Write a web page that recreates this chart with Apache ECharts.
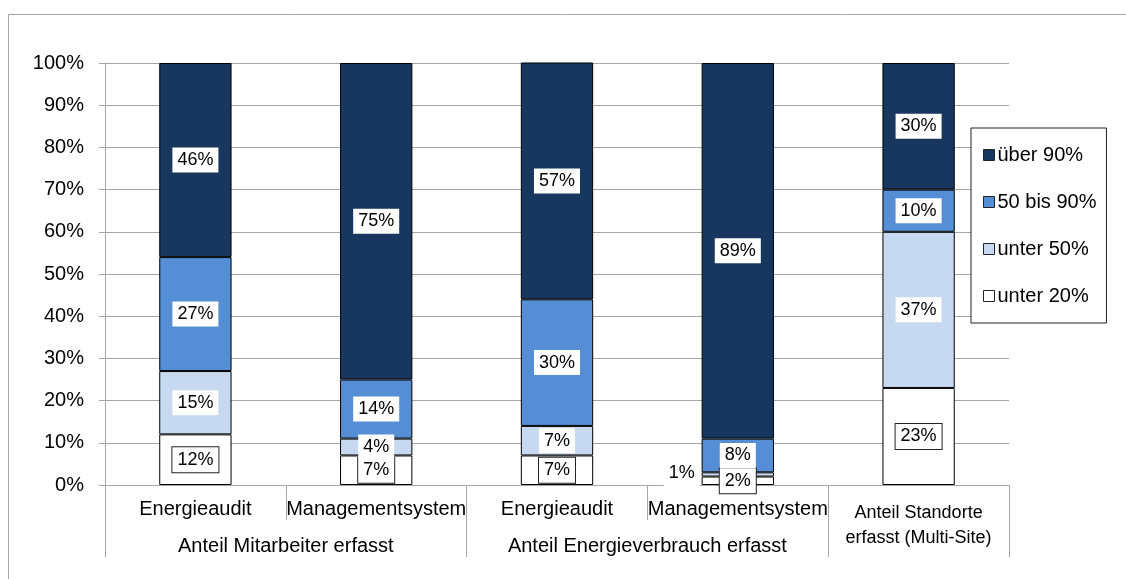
<!DOCTYPE html>
<html>
<head>
<meta charset="utf-8">
<script src="https://cdn.jsdelivr.net/npm/echarts@6/dist/echarts.min.js"></script>
<style>
  html, body { margin: 0; padding: 0; background: #fff; }
  #chart { width: 1126px; height: 579px; }
</style>
</head>
<body>
<div id="chart"></div>
<script>
// Categories (first axis row) and their groups (second axis row)
const categories = ['Energieaudit', 'Managementsystem', 'Energieaudit', 'Managementsystem', 'Anteil Standorte\nerfasst (Multi-Site)'];
const groupLabels = ['Anteil Mitarbeiter erfasst', 'Anteil Energieverbrauch erfasst'];
const groupCenters = [1, 3];        // position on the 0..5 category scale
const groupBoundaries = [0, 2, 4, 5];
const yTicks = [0, 10, 20, 30, 40, 50, 60, 70, 80, 90, 100];

// Shares per coverage class (percent)
const unter20 = [12, 7, 7, 2, 23];
const unter50 = [15, 4, 7, 1, 37];
const bis90   = [27, 14, 30, 8, 10];
const ueber90 = [46, 75, 57, 89, 30];

const seriesNames = ['unter 20%', 'unter 50%', '50 bis 90%', 'über 90%'];
const seriesColors = ['#ffffff', '#c6d9f1', '#558ed5', '#17375e'];
const seriesData = [unter20, unter50, bis90, ueber90];

const font = 'Liberation Sans, Arial, sans-serif';

const baseLabel = {
  show: true,
  position: 'inside',
  formatter: p => p.value + '%',
  fontFamily: font,
  fontSize: 18,
  color: '#000',
  backgroundColor: '#fff',
  borderWidth: 0,
  padding: [4, 5, 3, 5]
};

const series = seriesData.map((vals, si) => ({
  name: seriesNames[si],
  type: 'bar',
  stack: 'total',
  barWidth: '40%',
  data: vals.map((v, ci) => {
    const item = { value: v };
    // small slice in the fourth column: label set beside the bar
    if (si === 1 && ci === 3) {
      item.label = { offset: [-56, -1] };
    }
    return item;
  }),
  itemStyle: { color: seriesColors[si], borderColor: '#000', borderWidth: 1 },
  label: si === 0
    ? Object.assign({}, baseLabel, { borderColor: '#222', borderWidth: 1 })
    : baseLabel,
  emphasis: { disabled: true }
}));

const chart = echarts.init(document.getElementById('chart'), null, { renderer: 'canvas' });
chart.setOption({
  animation: false,
  backgroundColor: '#fff',
  graphic: [{
    type: 'rect',
    shape: { x: 8.5, y: 14.5, width: 1300, height: 800 },
    style: { fill: 'none', stroke: '#a6a6a6', lineWidth: 1 },
    silent: true
  }],
  grid: { left: 105, right: 117, top: 63, bottom: 94 },
  legend: {
    orient: 'vertical',
    left: 971,
    top: 128,
    data: ['über 90%', '50 bis 90%', 'unter 50%', 'unter 20%'],
    icon: 'rect',
    itemWidth: 11,
    itemHeight: 11,
    itemGap: 27,
    itemStyle: { borderColor: '#222', borderWidth: 1 },
    textStyle: { fontFamily: font, fontSize: 20, color: '#000', padding: [0, 0, 0, -2] },
    padding: [17, 10, 17, 12],
    borderColor: '#222',
    borderWidth: 1,
    backgroundColor: '#fff'
  },
  xAxis: [{
    type: 'category',
    data: categories,
    axisLine: { lineStyle: { color: '#a6a6a6' } },
    axisTick: { show: true, interval: 0, length: 35, lineStyle: { color: '#a6a6a6' } },
    axisLabel: {
      interval: 0,
      margin: 14,
      fontFamily: font,
      fontSize: 20,
      color: '#000',
      formatter: (v, i) => {
        if (i !== 4) return v;
        const lines = v.split('\n');
        return '{ms1|' + lines[0] + '}\n{ms2|' + lines[1] + '}';
      },
      rich: {
        ms1: { fontFamily: font, fontSize: 18, lineHeight: 28, color: '#000' },
        ms2: { fontFamily: font, fontSize: 18, lineHeight: 22, color: '#000' }
      }
    }
  }, {
    type: 'value',
    position: 'bottom',
    min: 0,
    max: 5,
    axisLine: { show: false },
    splitLine: { show: false },
    axisTick: { show: true, length: 72, customValues: groupBoundaries, lineStyle: { color: '#a6a6a6' } },
    axisLabel: {
      margin: 51,
      customValues: groupCenters,
      formatter: v => groupLabels[groupCenters.indexOf(v)] || '',
      fontFamily: font,
      fontSize: 20,
      color: '#000'
    }
  }],
  yAxis: {
    type: 'value',
    min: 0,
    max: 100,
    interval: 10,
    axisLine: { show: true, lineStyle: { color: '#a6a6a6' } },
    axisTick: { show: true, length: 6, lineStyle: { color: '#a6a6a6' } },
    splitLine: { lineStyle: { color: '#a6a6a6' } },
    axisLabel: {
      margin: 21,
      fontFamily: font,
      fontSize: 20,
      color: '#000',
      customValues: yTicks,
      formatter: v => v + '%'
    }
  },
  series: series
});
</script>
</body>
</html>
